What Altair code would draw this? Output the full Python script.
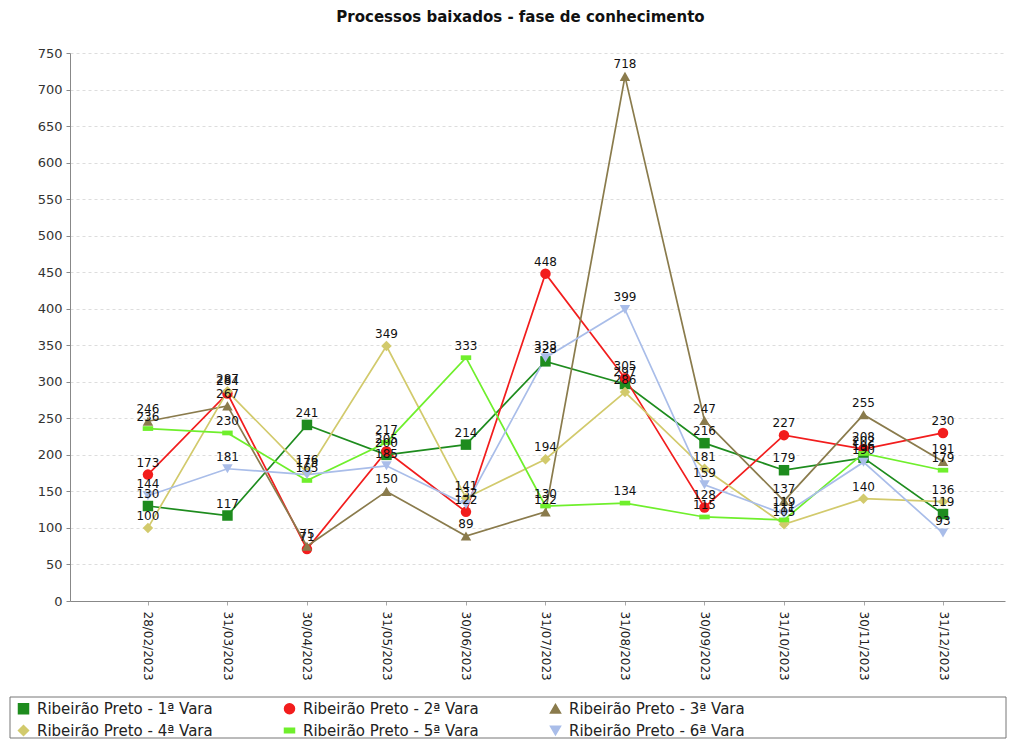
import altair as alt
import pandas as pd

dates = ["28/02/2023", "31/03/2023", "30/04/2023", "31/05/2023", "30/06/2023",
         "31/07/2023", "31/08/2023", "30/09/2023", "31/10/2023", "30/11/2023", "31/12/2023"]

series_names = ["Ribeirão Preto - 1ª Vara", "Ribeirão Preto - 2ª Vara", "Ribeirão Preto - 3ª Vara",
                "Ribeirão Preto - 4ª Vara", "Ribeirão Preto - 5ª Vara", "Ribeirão Preto - 6ª Vara"]

vara1 = [130, 117, 241, 200, 214, 328, 297, 216, 179, 196, 119]
vara2 = [173, 284, 71, 205, 122, 448, 305, 128, 227, 208, 230]
vara3 = [246, 267, 75, 150, 89, 122, 718, 247, 137, 255, 191]
vara4 = [100, 287, 176, 349, 141, 194, 286, 181, 105, 140, 136]
vara5 = [236, 230, 165, 217, 333, 130, 134, 115, 111, 202, 179]
vara6 = [144, 181, 173, 185, 132, 333, 399, 159, 119, 190, 93]

colors = ["#1e8c1e", "#f21d1d", "#8a7b4c", "#d2ca6c", "#6fef2c", "#a9bde9"]
shapes = ["square", "circle", "triangle-up", "diamond",
          "M-1,-0.45L1,-0.45L1,0.45L-1,0.45Z", "triangle-down"]

rows = []
for name, vals in zip(series_names, [vara1, vara2, vara3, vara4, vara5, vara6]):
    for d, v in zip(dates, vals):
        rows.append({"data": d, "serie": name, "valor": v})
df = pd.DataFrame(rows)

FONT = "DejaVu Sans"

x_enc = alt.X("data:N", sort=dates, title=None,
              scale=alt.Scale(type="point", padding=0.88, align=0.557),
              axis=alt.Axis(labelAngle=90, labelFontSize=12, labelColor="#222",
                            labelFont=FONT, labelPadding=6, grid=False,
                            domainColor="#888", tickColor="#aaa", tickSize=4))
y_enc = alt.Y("valor:Q", title=None,
              scale=alt.Scale(domain=[0, 750], nice=False),
              axis=alt.Axis(values=list(range(0, 751, 50)), labelFontSize=13,
                            labelFont=FONT, labelColor="#333", labelPadding=4,
                            domainColor="#888", tickColor="#888", tickSize=4,
                            gridColor="#dddddd", gridDash=[3, 3], gridWidth=1))

leg = alt.Legend(title=None, orient="none", legendX=-54, legendY=648,
                 direction="horizontal", columns=3,
                 labelFontSize=15, labelFont=FONT,
                 labelColor="#222", symbolSize=100, labelOffset=6,
                 columnPadding=68, rowPadding=5, labelLimit=400)

color_enc = alt.Color("serie:N", sort=series_names,
                      scale=alt.Scale(domain=series_names, range=colors), legend=leg)
shape_enc = alt.Shape("serie:N", sort=series_names,
                      scale=alt.Scale(domain=series_names, range=shapes), legend=leg)

base = alt.Chart(df)

lines = base.mark_line(strokeWidth=1.7).encode(
    x=x_enc, y=y_enc, color=color_enc, detail="serie:N",
)

points = base.mark_point(filled=True, size=110, opacity=1).encode(
    x=x_enc, y=y_enc, color=color_enc, shape=shape_enc,
)

labels = base.mark_text(dy=-12, fontSize=12, font=FONT, color="#111").encode(
    x=x_enc, y=y_enc, text="valor:Q",
)

box_df = pd.DataFrame({"k": [0]})
box = alt.Chart(box_df).mark_rect(fill="white", fillOpacity=0, stroke="#777", strokeWidth=1,
                                  clip=False).encode(
    x=alt.value(-60), x2=alt.value(936), y=alt.value(644), y2=alt.value(685),
)

chart = alt.layer(lines, points, labels, box).properties(
    width=935, height=548,
    title=alt.TitleParams("Processos baixados - fase de conhecimento", font=FONT,
                          fontSize=15, fontWeight="bold", color="#111",
                          anchor="middle", dx=-17, offset=22),
    autosize=alt.AutoSizeParams(type="none"),
    padding={"left": 62, "top": 45, "right": 2, "bottom": 138},
).configure_view(stroke=None).configure_axis(labelFont=FONT)

chart.save("out.html", embed_options={"renderer": "svg", "actions": False})
